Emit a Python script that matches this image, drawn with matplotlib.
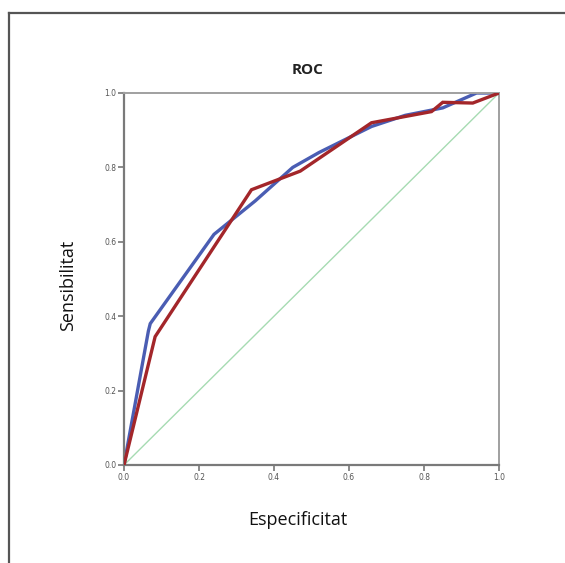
import matplotlib
matplotlib.use("Agg")
import matplotlib.pyplot as plt
from matplotlib.lines import Line2D

# ROC curves (1 - especificitat, sensibilitat)
blue_x = [0.0, 0.065, 0.07, 0.24, 0.35, 0.45, 0.52, 0.60, 0.66, 0.75, 0.85, 0.94, 1.0]
blue_y = [0.0, 0.36, 0.38, 0.62, 0.71, 0.80, 0.84, 0.88, 0.91, 0.94, 0.96, 1.0, 1.0]
red_x = [0.0, 0.083, 0.34, 0.47, 0.66, 0.82, 0.85, 0.93, 1.0]
red_y = [0.0, 0.345, 0.74, 0.79, 0.92, 0.95, 0.975, 0.973, 1.0]
ref_x = [0.0, 1.0]
ref_y = [0.0, 1.0]
tick_vals = [0.0, 0.2, 0.4, 0.6, 0.8, 1.0]
tick_labels = ["0.0", "0.2", "0.4", "0.6", "0.8", "1.0"]

fig = plt.figure(figsize=(5.65, 5.63), dpi=100)
fig.patch.set_facecolor("white")

# frame around the image: only top and left edges visible
fig.add_artist(Line2D([9 / 565, 9 / 565], [0, 1 - 13 / 563],
                      transform=fig.transFigure, color="#555555", lw=1.6))
fig.add_artist(Line2D([9 / 565, 1], [1 - 13 / 563, 1 - 13 / 563],
                      transform=fig.transFigure, color="#555555", lw=1.6))

ax = fig.add_axes([124 / 565, 1 - 465 / 563, 375 / 565, 372 / 563])

ax.plot(ref_x, ref_y, color="#a6dbb2", lw=1.0, zorder=1)
ax.plot(blue_x, blue_y, color="#4a5db3", lw=2.4, zorder=2, solid_joinstyle="miter")
ax.plot(red_x, red_y, color="#a3262a", lw=2.4, zorder=3, solid_joinstyle="miter")

ax.set_xlim(0, 1)
ax.set_ylim(0, 1)
ax.set_xticks(tick_vals)
ax.set_xticklabels(tick_labels)
ax.set_yticks(tick_vals)
ax.set_yticklabels(tick_labels)
ax.tick_params(direction="out", length=4, width=1.2, color="#777777",
               labelsize=5.5, labelcolor="#555555", pad=1.5)

for side in ["left", "bottom"]:
    ax.spines[side].set_color("#7a7a7a")
    ax.spines[side].set_linewidth(1.6)
for side in ["top", "right"]:
    ax.spines[side].set_color("#a0a0a0")
    ax.spines[side].set_linewidth(1.4)

fig.text(308 / 565, 1 - 70 / 563, "ROC", ha="center", va="center",
         fontsize=11, fontweight="bold", family="Open Sans", color="#222222")
fig.text(298 / 565, 1 - 520 / 563, "Especificitat", ha="center", va="center",
         fontsize=13, family="Open Sans", color="#111111")
fig.text(68 / 565, 1 - 285 / 563, "Sensibilitat", ha="center", va="center",
         rotation=90, fontsize=13, family="Open Sans", color="#111111")

fig.savefig("out.png", dpi=100)
